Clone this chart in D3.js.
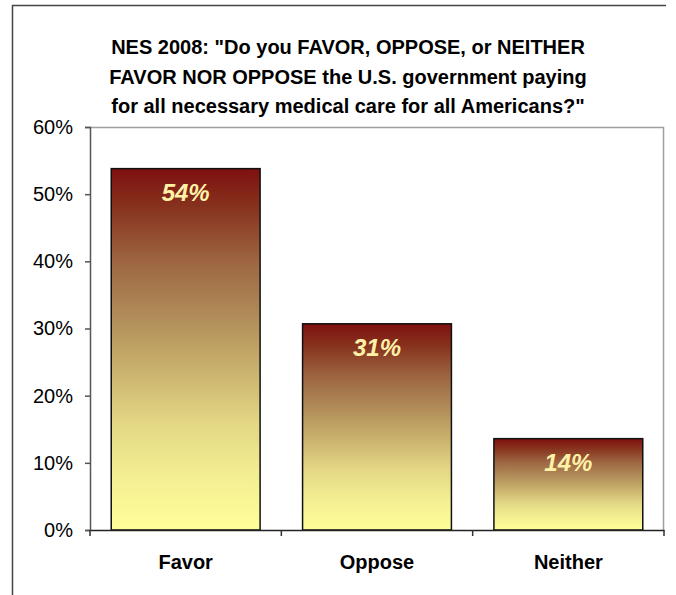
<!DOCTYPE html>
<html>
<head>
<meta charset="utf-8">
<script src="https://cdn.jsdelivr.net/npm/d3@7"></script>
<style>
  html, body { margin: 0; padding: 0; background: #fff; }
  svg { display: block; }
  text { font-family: "Liberation Sans", Arial, sans-serif; }
</style>
</head>
<body>
<svg id="chart" width="676" height="595"></svg>
<script>
const categories = ["Favor", "Oppose", "Neither"];
const values = [53.8, 30.7, 13.6];
const valueLabels = ["54%", "31%", "14%"];
const yTicks = [0, 10, 20, 30, 40, 50, 60];
const yTickLabels = ["0%", "10%", "20%", "30%", "40%", "50%", "60%"];
const titleLines = [
  "NES 2008: \"Do you FAVOR, OPPOSE, or NEITHER",
  "FAVOR NOR OPPOSE the U.S. government paying",
  "for all necessary medical care for all Americans?\""
];

const svg = d3.select("#chart");
const plot = { left: 90, right: 664, top: 127, bottom: 530 };

// gradient
const defs = svg.append("defs");
const grad = defs.append("linearGradient")
  .attr("id", "barGrad").attr("x1", 0).attr("y1", 0).attr("x2", 0).attr("y2", 1);
[[0, "#7f1010"], [0.1, "#86301c"], [0.25, "#9c6440"], [0.4, "#b08a58"],
 [0.55, "#c8b06c"], [0.7, "#e2d684"], [0.85, "#f4ee92"], [1, "#ffff99"]]
  .forEach(([o, c]) => grad.append("stop").attr("offset", o).attr("stop-color", c));

// outer frame (top and left)
svg.append("line").attr("x1", 12).attr("x2", 666).attr("y1", 5.5).attr("y2", 5.5)
  .attr("stroke", "#444").attr("stroke-width", 1.5);
svg.append("line").attr("x1", 12.5).attr("x2", 12.5).attr("y1", 5).attr("y2", 595)
  .attr("stroke", "#444").attr("stroke-width", 1.5);

// title
const title = svg.append("text").attr("text-anchor", "middle")
  .attr("font-weight", "bold").attr("font-size", 20).attr("fill", "#000");
titleLines.forEach((t, i) => {
  title.append("tspan").attr("x", 348).attr("y", 54 + i * 29.5).text(t);
});

const x = d3.scaleBand().domain(categories)
  .range([plot.left, plot.right]).paddingInner(0.222).paddingOuter(0.111);
const y = d3.scaleLinear().domain([0, 60]).range([plot.bottom, plot.top]);

// plot border top and right
svg.append("path")
  .attr("d", `M${plot.left},${plot.top + 0.5}H${plot.right - 0.5}V${plot.bottom}`)
  .attr("fill", "none").attr("stroke", "#a0a0a0").attr("stroke-width", 1.5);

// bars
svg.append("g").selectAll("rect").data(values).join("rect")
  .attr("x", (d, i) => x(categories[i]))
  .attr("y", d => y(d))
  .attr("width", x.bandwidth())
  .attr("height", d => y(0) - y(d))
  .attr("fill", "url(#barGrad)")
  .attr("stroke", "#111").attr("stroke-width", 1.5);

// value labels
svg.append("g").selectAll("text").data(values).join("text")
  .attr("x", (d, i) => x(categories[i]) + x.bandwidth() / 2)
  .attr("y", d => y(d) + 32)
  .attr("text-anchor", "middle")
  .attr("font-size", 24).attr("font-weight", "bold").attr("font-style", "italic")
  .attr("fill", "#fff2a8")
  .text((d, i) => valueLabels[i]);

// y axis
const yAxis = svg.append("g").attr("transform", `translate(${plot.left},0)`)
  .call(d3.axisLeft(y).tickValues(yTicks).tickSize(5).tickPadding(12)
    .tickFormat((d, i) => yTickLabels[i]));
yAxis.select(".domain").attr("stroke", "#555").attr("stroke-width", 1.5);
yAxis.selectAll(".tick line").attr("stroke", "#555").attr("stroke-width", 1.5);
yAxis.selectAll(".tick text").attr("font-size", 20).attr("fill", "#000")
  .attr("font-family", "'Liberation Sans', Arial, sans-serif");

// x axis
const xAxis = svg.append("g").attr("transform", `translate(0,${plot.bottom})`)
  .call(d3.axisBottom(x).tickSize(0).tickPadding(25));
xAxis.select(".domain").attr("stroke", "#222").attr("stroke-width", 1.5);
xAxis.selectAll(".tick text").attr("font-size", 20).attr("font-weight", "bold")
  .attr("fill", "#000").attr("font-family", "'Liberation Sans', Arial, sans-serif");
// boundary ticks between categories
const bounds = [0, 1, 2, 3].map(i => plot.left + i * x.step());
xAxis.selectAll(".bound").data(bounds).join("line").attr("class", "bound")
  .attr("x1", d => d).attr("x2", d => d).attr("y1", 0).attr("y2", 6)
  .attr("stroke", "#333").attr("stroke-width", 1.5);
</script>
</body>
</html>
